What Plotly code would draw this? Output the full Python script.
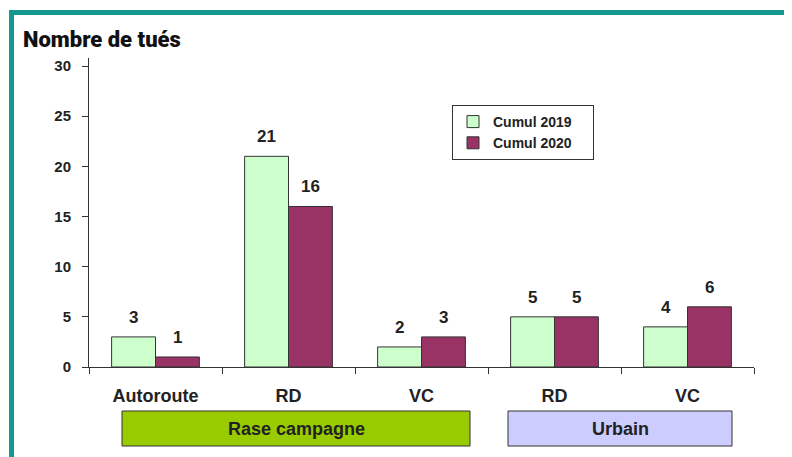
import plotly.graph_objects as go

# données
categories = ["Autoroute", "RD", "VC", "RD", "VC"]
groupes = ["Rase campagne", "Rase campagne", "Rase campagne", "Urbain", "Urbain"]
cumul_2019 = [3, 21, 2, 5, 4]
cumul_2020 = [1, 16, 3, 5, 6]
y_ticks = [0, 5, 10, 15, 20, 25, 30]

# clés uniques (RD / VC apparaissent deux fois)
cles = [g + "|" + c for g, c in zip(groupes, categories)]

W, H = 792, 457
OFF = 8  # marge du body de la page
# zone de tracé en coordonnées de la référence
X0, X1, Y0, Y1 = 89, 754, 58, 367
L, T = X0 - OFF, Y0 - OFF
R, B = W - (X1 - OFF), H - (Y1 - OFF)
pw, ph = X1 - X0, Y1 - Y0


def px_x(px):
    return (px - X0) / pw


def px_y(py):
    return (Y1 - py) / ph


fig = go.Figure()
fig.add_trace(go.Bar(x=cles, y=cumul_2019, name="<b>Cumul 2019</b>&nbsp;&nbsp;&nbsp;&nbsp;",
                     marker=dict(color="#ccffcc", line=dict(color="#333333", width=1))))
fig.add_trace(go.Bar(x=cles, y=cumul_2020, name="<b>Cumul 2020</b>&nbsp;&nbsp;&nbsp;&nbsp;",
                     marker=dict(color="#993366", line=dict(color="#333333", width=1))))

# étiquettes des valeurs
lab_font = dict(family="Arial, Liberation Sans", size=17, color="#222222")
for k, v1, v2 in zip(cles, cumul_2019, cumul_2020):
    fig.add_annotation(x=k, y=v1, text="<b>%d</b>" % v1, showarrow=False,
                       xshift=-22, yshift=8, yanchor="bottom", font=lab_font)
    fig.add_annotation(x=k, y=v2, text="<b>%d</b>" % v2, showarrow=False,
                       xshift=22, yshift=8, yanchor="bottom", font=lab_font)

# bordure turquoise + boîtes des groupes
shapes = [
    dict(type="rect", xref="paper", yref="paper", x0=px_x(9), x1=px_x(W + 20), y0=px_y(15), y1=px_y(10),
         fillcolor="#13998f", line=dict(width=0), layer="below"),
    dict(type="rect", xref="paper", yref="paper", x0=px_x(9), x1=px_x(14), y0=px_y(H + 20), y1=px_y(10),
         fillcolor="#13998f", line=dict(width=0), layer="below"),
    dict(type="rect", xref="paper", yref="paper", x0=px_x(122), x1=px_x(470), y0=px_y(446), y1=px_y(411),
         fillcolor="#99cc00", line=dict(color="#333333", width=1)),
    dict(type="rect", xref="paper", yref="paper", x0=px_x(508), x1=px_x(732), y0=px_y(446), y1=px_y(411),
         fillcolor="#ccccff", line=dict(color="#333333", width=1)),
]

grp_font = dict(family="Arial, Liberation Sans", size=18, color="#222222")
fig.add_annotation(xref="paper", yref="paper", x=px_x(296), y=px_y(429), text="<b>Rase campagne</b>",
                   xanchor="center", yanchor="middle", showarrow=False, font=grp_font)
fig.add_annotation(xref="paper", yref="paper", x=px_x(620), y=px_y(429), text="<b>Urbain</b>",
                   xanchor="center", yanchor="middle", showarrow=False, font=grp_font)

# titre
fig.add_annotation(xref="paper", yref="paper", x=px_x(21), y=px_y(25), xanchor="left", yanchor="top",
                   text="Nombre de tués", showarrow=False,
                   font=dict(family="Roboto", size=22, weight=900, color="#111111"))

fig.update_layout(
    width=W, height=H,
    margin=dict(l=L, r=R, t=T, b=B),
    paper_bgcolor="white", plot_bgcolor="white",
    barmode="group", bargap=0.34, bargroupgap=0,
    shapes=shapes,
    showlegend=True,
    legend=dict(x=px_x(452), y=px_y(105), xanchor="left", yanchor="top",
                bordercolor="#333333", borderwidth=1, bgcolor="white",
                font=dict(family="Arial, Liberation Sans", size=14, color="#222222"),
                tracegroupgap=0),
    xaxis=dict(type="category", tickmode="array", tickvals=cles,
               ticktext=["<b>%s</b>" % c for c in categories],
               tickson="boundaries", ticks="outside", ticklen=6, tickcolor="#333333",
               showline=True, linecolor="#333333", linewidth=1,
               showgrid=False, ticklabelstandoff=12,
               tickfont=dict(family="Arial, Liberation Sans", size=18, color="#222222")),
    yaxis=dict(range=[0, 30.8], tickvals=y_ticks, ticktext=["<b>%d</b>" % t for t in y_ticks],
               ticks="outside", ticklen=6, tickcolor="#333333",
               showline=True, linecolor="#333333", linewidth=1,
               showgrid=False, zeroline=False, ticklabelstandoff=8,
               tickfont=dict(family="Arial, Liberation Sans", size=15, color="#222222")),
)

fig.write_html("out.html")
